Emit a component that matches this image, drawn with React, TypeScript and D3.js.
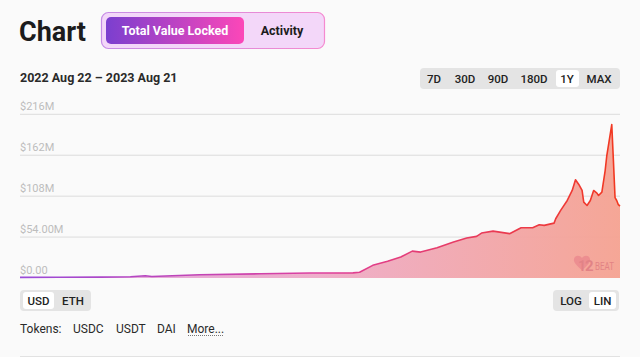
import React from "react";
import * as d3 from "d3";

const dates = [
  "2022-08-22","2022-09-15","2022-10-10","2022-10-28","2022-11-06","2022-11-10","2022-12-09",
  "2023-01-15","2023-02-14","2023-03-12","2023-03-16","2023-03-24","2023-04-02","2023-04-10",
  "2023-04-17","2023-04-22","2023-05-02","2023-05-12","2023-05-20","2023-05-26","2023-05-29",
  "2023-06-05","2023-06-15","2023-06-22","2023-06-29","2023-07-03","2023-07-06","2023-07-12",
  "2023-07-13","2023-07-16","2023-07-20","2023-07-23","2023-07-25","2023-07-27","2023-07-29",
  "2023-07-30","2023-08-01","2023-08-03","2023-08-05","2023-08-07","2023-08-08","2023-08-10",
  "2023-08-12","2023-08-13","2023-08-16","2023-08-17","2023-08-18","2023-08-19","2023-08-20",
  "2023-08-21",
];
const tvlMillions = [
  0.8, 0.9, 1.2, 1.6, 3.0, 2.0, 4.2,
  5.6, 6.6, 6.8, 7.5, 16.7, 22, 27.7,
  35.5, 34.2, 40, 47.4, 52.7, 54.9, 59.3,
  61.9, 58.5, 66.4, 66.4, 70.3, 69.4, 72.4,
  78.2, 89.2, 102.3, 115.5, 129.6, 123.4, 115.5,
  100.1, 95.7, 102.3, 115.5, 112, 108.9, 113.3,
  141.8, 161.6, 202.4, 155, 106, 102.3, 96.7,
  95,
];
const yTicks = [0, 54, 108, 162, 216];
const yTickLabels = ["$0.00", "$54.00M", "$108M", "$162M", "$216M"];
const rangeButtons = ["7D", "30D", "90D", "180D", "1Y", "MAX"];
const tokens = ["USDC", "USDT", "DAI"];

const FONT = "Roboto, 'Noto Sans', sans-serif";

export default function App() {
  const parse = d3.timeParse("%Y-%m-%d");
  const data = dates.map((d, i) => ({ date: parse(d) as Date, v: tvlMillions[i] }));
  const x = d3.scaleTime().domain([data[0].date, data[data.length - 1].date]).range([20, 620]);
  const y = d3.scaleLinear().domain([0, 216]).range([278, 114.3]);
  const line = d3.line<any>().x((d) => x(d.date)).y((d) => y(d.v)).curve(d3.curveLinear);
  const area = d3.area<any>().x((d) => x(d.date)).y0(y(0)).y1((d) => y(d.v)).curve(d3.curveLinear);

  const btnX = [434, 465, 498, 534, 567, 599];

  return (
    <svg width={640} height={357} style={{ position: "absolute", left: 0, top: 0, background: "#fafafa", fontFamily: FONT }}>
      <defs>
        <linearGradient id="lineG" x1="20" x2="620" y1="0" y2="0" gradientUnits="userSpaceOnUse">
          <stop offset="0" stopColor="#9a4bd8" />
          <stop offset="0.5" stopColor="#de3f9e" />
          <stop offset="1" stopColor="#f2381f" />
        </linearGradient>
        <linearGradient id="fillG" x1="20" x2="620" y1="0" y2="0" gradientUnits="userSpaceOnUse">
          <stop offset="0" stopColor="#dca4e0" />
          <stop offset="0.5" stopColor="#eeabc8" />
          <stop offset="1" stopColor="#f5a291" />
        </linearGradient>
        <linearGradient id="btnG" x1="0" x2="1" y1="0" y2="0">
          <stop offset="0" stopColor="#7b3fcf" />
          <stop offset="1" stopColor="#fc47b8" />
        </linearGradient>
        <linearGradient id="borderG" x1="0" x2="1" y1="0" y2="0">
          <stop offset="0" stopColor="#c68ce6" />
          <stop offset="1" stopColor="#f58ad0" />
        </linearGradient>
      </defs>

      {/* Header */}
      <text x={19} y={41} fontSize={27} fontWeight={700} fill="#1c1c1c">Chart</text>
      <rect x={101.5} y={12.5} width={223} height={36} rx={7} fill="#f3d7f9" stroke="url(#borderG)" strokeWidth={1.2} />
      <rect x={106} y={17} width={138} height={27} rx={5} fill="url(#btnG)" />
      <text x={175} y={35} fontSize={12.5} fontWeight={700} fill="#fff" textAnchor="middle">Total Value Locked</text>
      <text x={282} y={35} fontSize={12.5} fontWeight={700} fill="#1c1c1c" textAnchor="middle">Activity</text>

      <text x={20} y={82} fontSize={12.5} fontWeight={700} fill="#2a2a2a">2022 Aug 22 – 2023 Aug 21</text>

      {/* range buttons */}
      <rect x={420} y={68} width={200} height={21} rx={4} fill="#e4e4e4" />
      <rect x={556} y={70} width={23} height={17} rx={3} fill="#ffffff" />
      {rangeButtons.map((b, i) => (
        <text key={b} x={btnX[i]} y={83} fontSize={11.5} fontWeight={500} fill="#222" textAnchor="middle">{b}</text>
      ))}

      {/* grid */}
      {yTicks.map((t, i) => (
        <g key={t}>
          {t > 0 && <line x1={20} x2={620} y1={y(t)} y2={y(t)} stroke="#dcdcdc" strokeWidth={1} />}
          <text x={20} y={y(t) - 4} fontSize={11} fill="#bdbdbd">{yTickLabels[i]}</text>
        </g>
      ))}

      {/* area */}
      <path d={area(data) as string} fill="url(#fillG)" opacity={0.95} />
      <path d={line(data) as string} fill="none" stroke="url(#lineG)" strokeWidth={1.6} strokeLinejoin="round" />

      {/* watermark */}
      <g opacity={0.35}>
        <path d="M582 258 c-3 -4 -9 -2 -8 3 c1 4 8 9 8 9 c0 0 7 -5 8 -9 c1 -5 -5 -7 -8 -3 z" fill="#e0607a" />
        <text x={578} y={271} fontSize={14} fontWeight={700} fill="#c04060">1</text>
        <text x={585} y={271} fontSize={15} fontWeight={700} fill="#c04060">2</text>
        <text x={595} y={270} fontSize={11} fontWeight={400} fill="#c04060" textLength={19} lengthAdjust="spacingAndGlyphs">BEAT</text>
      </g>

      {/* USD / ETH */}
      <rect x={20} y={290} width={71} height={21} rx={4} fill="#e4e4e4" />
      <rect x={23} y={292} width={31} height={17} rx={3} fill="#ffffff" />
      <text x={38.5} y={305} fontSize={11.5} fontWeight={500} fill="#222" textAnchor="middle">USD</text>
      <text x={73} y={305} fontSize={11.5} fontWeight={500} fill="#222" textAnchor="middle">ETH</text>

      {/* LOG / LIN */}
      <rect x={553} y={290} width={66} height={21} rx={4} fill="#e4e4e4" />
      <rect x={589} y={292} width={27} height={17} rx={3} fill="#ffffff" />
      <text x={571} y={305} fontSize={11.5} fontWeight={500} fill="#222" textAnchor="middle">LOG</text>
      <text x={602.5} y={305} fontSize={11.5} fontWeight={500} fill="#222" textAnchor="middle">LIN</text>

      {/* tokens */}
      <text x={20} y={333} fontSize={12} fill="#2a2a2a">Tokens:</text>
      {tokens.map((t, i) => (
        <text key={t} x={[73, 116, 157][i]} y={333} fontSize={12} fill="#2a2a2a">{t}</text>
      ))}
      <text x={187} y={333} fontSize={12} fill="#2a2a2a">More...</text>
      <line x1={188} x2={223} y1={335.5} y2={335.5} stroke="#555" strokeWidth={0.8} strokeDasharray="1,1" />

      <line x1={20} x2={620} y1={356.5} y2={356.5} stroke="#e2e2e2" strokeWidth={1} />
    </svg>
  );
}
